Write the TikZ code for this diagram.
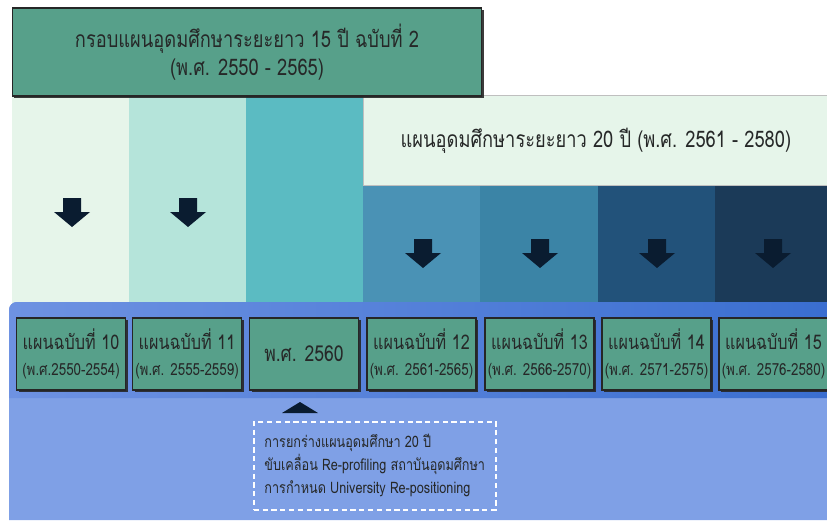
\documentclass[tikz,border=0pt]{standalone}
\usepackage{fontspec}
\setmainfont[Script=Thai, FakeStretch=0.8]{Loma}
\usetikzlibrary{shadows}

\definecolor{planGreen}{RGB}{87,160,138}
\definecolor{textDark}{RGB}{38,40,40}
\definecolor{colA}{RGB}{230,245,234}
\definecolor{colB}{RGB}{181,228,218}
\definecolor{colC}{RGB}{91,187,194}
\definecolor{colD}{RGB}{74,146,181}
\definecolor{colE}{RGB}{59,132,166}
\definecolor{colF}{RGB}{34,82,122}
\definecolor{colG}{RGB}{27,58,88}
\definecolor{arrowNavy}{RGB}{10,28,48}
\definecolor{panelBlue}{RGB}{127,160,230}
\definecolor{bandLeft}{RGB}{110,146,226}
\definecolor{bandRight}{RGB}{58,110,208}
\newcommand{\yearfont}{\fontsize{9.5}{12}\selectfont}

\begin{document}
\begin{tikzpicture}
  [x=0.02cm, y=-0.02cm,
  planbox/.style={rectangle, draw=black!85, line width=0.6pt, fill=planGreen,
    drop shadow={shadow xshift=1.2pt, shadow yshift=-1.2pt, fill=black!85, opacity=0.9},
    minimum width=2.18cm, minimum height=1.44cm, inner sep=0pt, align=center,
    text=textDark, font=\fontsize{11.5}{14}\selectfont},
  notebox/.style={rectangle, draw=white, line width=0.9pt, dash pattern=on 3pt off 2pt,
    minimum width=4.84cm, minimum height=1.76cm, inner sep=0pt, align=left,
    text=textDark, font=\fontsize{9}{13}\selectfont}]
  \clip (0,0) rectangle (827,520);
  \fill[white] (0,0) rectangle (827,520);

  % columns
  \foreach \c/\xa/\xb/\ya in {colA/12/129/96, colB/129/246/96, colC/246/363/96,
      colD/363/480/185, colE/480/598/185, colF/598/715/185, colG/715/827/185}
    \fill[\c] (\xa,\ya) rectangle (\xb,305);

  % nodes
  \node [rectangle, fill=colA, draw=black!25, line width=0.5pt, anchor=north west,
    minimum width=9.3cm, minimum height=1.8cm, text=textDark,
    font=\fontsize{13}{16}\selectfont] (plan20) at (363,95)
    {แผนอุดมศึกษาระยะยาว 20 ปี (พ.ศ. 2561 - 2580)};
  \node [planbox, minimum width=9.4cm, minimum height=1.76cm,
    font=\fontsize{13}{16}\selectfont] (frame15) at (247,52)
    {กรอบแผนอุดมศึกษาระยะยาว 15 ปี ฉบับที่ 2\\(พ.ศ. 2550 - 2565)};

  % down arrows
  \foreach \x/\y in {72/198, 188/198, 423/239, 540/239, 657/239, 773/239}
    \fill[arrowNavy] (\x-9,\y) -- (\x+9,\y) -- (\x+9,\y+14) -- (\x+18,\y+14)
      -- (\x,\y+29) -- (\x-18,\y+14) -- (\x-9,\y+14) -- cycle;

  % panel
  \fill[panelBlue] (9,520) [rounded corners=4.5pt] -- (9,302) [sharp corners]
    -- (827,302) -- (827,520) -- cycle;
  \shade[left color=bandLeft, right color=bandRight] (9,398)
    [rounded corners=4.5pt] -- (9,302) [sharp corners] -- (827,302) -- (827,398) -- cycle;

  % plan boxes
  \foreach \n/\x/\yrs in {10/71/(พ.ศ.2550-2554), 11/187/(พ.ศ. 2555-2559),
      12/421.5/(พ.ศ. 2561-2565), 13/539.5/(พ.ศ. 2566-2570),
      14/656.5/(พ.ศ. 2571-2575), 15/773.5/(พ.ศ. 2576-2580)}
    \node [planbox] (plan\n) at (\x,354)
      {แผนฉบับที่ \n\\[1pt]{\yearfont \yrs}};
  \node [planbox, font=\fontsize{12.5}{14}\selectfont] (year2560) at (304,354) {พ.ศ. 2560};

  % note
  \fill[arrowNavy] (282,413) -- (300,402) -- (318,413) -- cycle;
  \node [notebox, anchor=north west] (draft20) at (253,421)
    {การยกร่างแผนอุดมศึกษา 20 ปี\\ขับเคลื่อน Re-profiling สถาบันอุดมศึกษา\\การกำหนด University Re-positioning};
\end{tikzpicture}
\end{document}
